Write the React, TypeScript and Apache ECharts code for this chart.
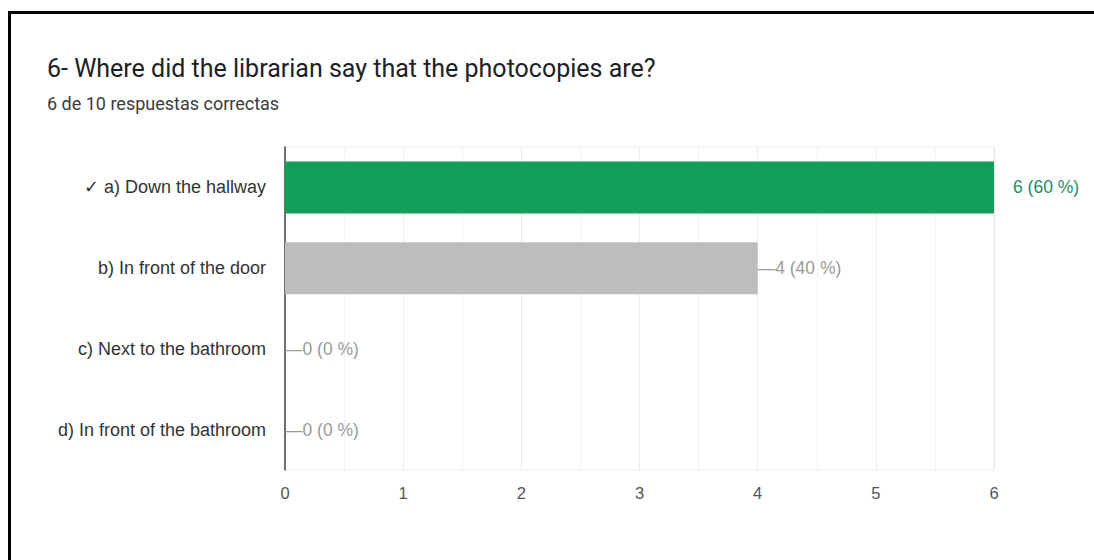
import React, { useEffect, useRef } from "react";
import * as echarts from "echarts";

const titleText = "6- Where did the librarian say that the photocopies are?";
const subtitleText = "6 de 10 respuestas correctas";
const categories = [
  "✓ a) Down the hallway",
  "b) In front of the door",
  "c) Next to the bathroom",
  "d) In front of the bathroom",
];
const counts = [6, 4, 0, 0];
const percents = [60, 40, 0, 0];
const correct = [true, false, false, false];
const xTicks = [0, 1, 2, 3, 4, 5, 6];

const FONT = "'Liberation Sans', Arial, sans-serif";
const TITLE_FONT = "Roboto, 'Liberation Sans', Arial, sans-serif";

export default function App() {
  const ref = useRef<HTMLDivElement>(null);
  useEffect(() => {
    if (!ref.current) return;
    const chart = echarts.init(ref.current, undefined, { renderer: "svg" });
    const data = counts.map((v, i) => ({
      value: v,
      itemStyle: { color: correct[i] ? "#139e5a" : "#bdbdbd" },
      label: correct[i]
        ? {
            show: true,
            position: "right",
            distance: 19,
            color: "#1e8e5e",
            formatter: `${v} (${percents[i]} %)`,
          }
        : {
            show: true,
            position: "right",
            distance: 0,
            color: "#9a9a9a",
            formatter: `—${v} (${percents[i]} %)`,
          },
    }));
    chart.setOption({
      animation: false,
      backgroundColor: "#ffffff",
      textStyle: { fontFamily: FONT },
      title: [
        {
          text: titleText,
          left: 42,
          top: 51,
          textStyle: { fontFamily: TITLE_FONT, fontSize: 25, fontWeight: "normal", color: "#202124" },
        },
        {
          text: subtitleText,
          left: 42,
          top: 89,
          textStyle: { fontFamily: TITLE_FONT, fontSize: 18, fontWeight: "normal", color: "#3c3c3c" },
        },
      ],
      graphic: [
        {
          type: "rect",
          shape: { x: 9.5, y: 12.5, width: 1200, height: 700 },
          style: { fill: "none", stroke: "#000000", lineWidth: 3 },
          silent: true,
        },
      ],
      grid: {
        left: 285,
        right: 100,
        top: 147,
        bottom: 90,
        show: true,
        borderColor: "#eeeeee",
        borderWidth: 1,
      },
      xAxis: {
        type: "value",
        min: xTicks[0],
        max: xTicks[xTicks.length - 1],
        interval: 1,
        axisLine: { show: false },
        axisTick: { show: false },
        axisLabel: { color: "#555555", fontSize: 16.5, margin: 14, fontFamily: FONT },
        splitLine: { show: true, lineStyle: { color: "#ebebeb", width: 1 } },
        minorTick: { show: false, splitNumber: 2 },
        minorSplitLine: { show: true, lineStyle: { color: "#f2f2f2", width: 1 } },
      },
      yAxis: {
        type: "category",
        data: categories,
        inverse: true,
        axisLine: { show: true, lineStyle: { color: "#444444", width: 1.5 } },
        axisTick: { show: false },
        axisLabel: { color: "#333333", fontSize: 18, margin: 19, fontFamily: FONT },
        splitLine: { show: false },
      },
      series: [
        {
          type: "bar",
          data,
          barWidth: 52,
          label: { fontSize: 17.5, fontFamily: FONT },
        },
      ],
    });
    return () => chart.dispose();
  }, []);
  return (
    <div
      ref={ref}
      style={{ position: "fixed", left: 0, top: 0, width: 1094, height: 560 }}
    />
  );
}
